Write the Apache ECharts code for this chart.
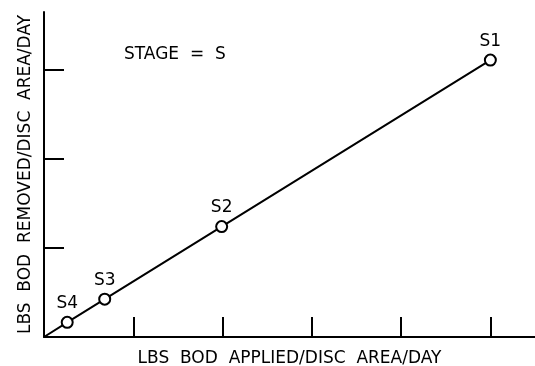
<!DOCTYPE html>
<html>
<head>
<meta charset="utf-8">
<script src="https://cdn.jsdelivr.net/npm/echarts@6/dist/echarts.min.js"></script>
<style>
  html, body { margin: 0; padding: 0; background: #fff; }
  #chart { width: 535px; height: 366px; }
</style>
</head>
<body>
<div id="chart"></div>
<script>
// Stage points: loading applied vs. BOD removed (per unit disc area per day)
const stageNames = ['', 'S4', 'S3', 'S2', 'S1'];
const bodApplied = [0, 0.26, 0.68, 1.99, 5.0];
const bodRemoved = [0, 0.165, 0.425, 1.24, 3.11];
const xTicks = [1, 2, 3, 4, 5];
const yTicks = [1, 2, 3];

const xTitle = 'LBS  BOD  APPLIED/DISC  AREA/DAY';
const yTitle = 'LBS  BOD  REMOVED/DISC  AREA/DAY';
const stageNote = 'STAGE  =  S';

const font = 'DejaVu Sans';
const points = bodApplied.map((x, i) => ({
  value: [x, bodRemoved[i]],
  name: stageNames[i],
  symbolSize: stageNames[i] ? 11 : 0,
  label: { show: !!stageNames[i] }
}));

const chart = echarts.init(document.getElementById('chart'));
chart.setOption({
  animation: false,
  backgroundColor: '#fff',
  grid: { left: 44, right: 0, top: 12, bottom: 29, containLabel: false, outerBoundsMode: 'none' },
  graphic: [{
    type: 'text', left: 124, top: 46,
    style: { text: stageNote, font: '17px "' + font + '"', fill: '#000' }
  }],
  xAxis: {
    type: 'value', min: 0, max: 5.5, interval: 1,
    name: xTitle, nameLocation: 'middle', nameGap: 13,
    nameTextStyle: { fontFamily: font, fontSize: 17, color: '#000' },
    axisLine: { show: true, onZero: false, lineStyle: { color: '#000', width: 2 } },
    axisTick: { show: true, inside: true, length: 20, customValues: xTicks, lineStyle: { color: '#000', width: 2 } },
    axisLabel: { show: false },
    splitLine: { show: false }
  },
  yAxis: {
    type: 'value', min: 0, max: 3.65, interval: 1,
    name: yTitle, nameLocation: 'middle', nameGap: 10, nameRotate: 90,
    nameTextStyle: { fontFamily: font, fontSize: 17, color: '#000' },
    axisLine: { show: true, onZero: false, lineStyle: { color: '#000', width: 2 } },
    axisTick: { show: true, inside: true, length: 20, customValues: yTicks, lineStyle: { color: '#000', width: 2 } },
    axisLabel: { show: false },
    splitLine: { show: false }
  },
  series: [{
    type: 'line',
    data: points,
    symbol: 'circle',
    showAllSymbol: true,
    lineStyle: { color: '#000', width: 2 },
    itemStyle: { color: '#fff', borderColor: '#000', borderWidth: 2 },
    label: {
      position: 'top', distance: 4,
      formatter: p => p.name,
      fontFamily: font, fontSize: 17, color: '#000'
    },
    emphasis: { disabled: true }
  }]
});
</script>
</body>
</html>
